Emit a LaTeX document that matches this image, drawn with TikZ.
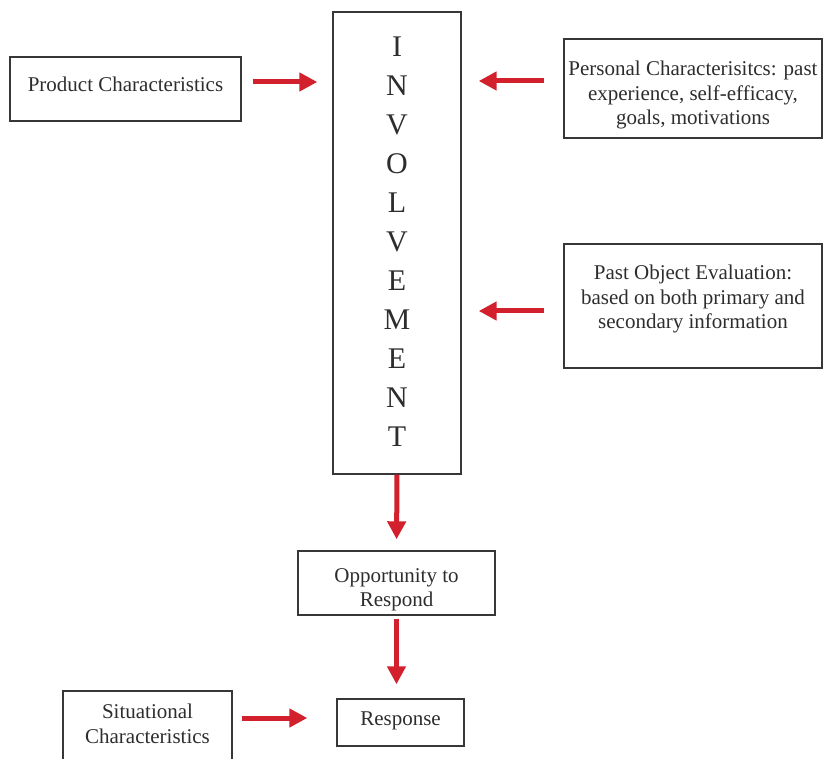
\documentclass[tikz,border=0pt]{standalone}
\usepackage{fontspec}
\setmainfont{Liberation Serif}
\usepackage{xcolor}
\usetikzlibrary{calc,arrows.meta}
\definecolor{arrowred}{RGB}{210,32,44}
\definecolor{boxgray}{RGB}{55,55,55}
\definecolor{textgray}{RGB}{45,45,45}
\tikzset{
	box/.style={rectangle,draw=boxgray,line width=1.4pt,inner sep=0pt},
	txt/.style={draw=none,inner sep=0pt,align=center,text=textgray,font=\fontsize{21}{24.5}\selectfont},
	letter/.style={draw=none,inner sep=0pt,text=textgray,font=\fontsize{30}{30}\selectfont},
	flow/.style={draw=arrowred,line width=5pt,arrows={-Triangle[length=18pt,width=18pt]}}
	}
\begin{document}
\begin{tikzpicture}[x=1pt,y=-1pt]
	\useasboundingbox (0,0) rectangle (823,759);
	% boxes
	\node[box,minimum width=231pt,minimum height=64pt] (prod) at (125.5,89) {};
	\node[box,minimum width=128pt,minimum height=462pt] (inv) at (397,243) {};
	\node[box,minimum width=258pt,minimum height=99pt] (pers) at (693,88.5) {};
	\node[box,minimum width=258pt,minimum height=124pt] (past) at (693,306) {};
	\node[box,minimum width=197pt,minimum height=64pt] (opp) at (396.5,583) {};
	\node[box,minimum width=127pt,minimum height=47pt] (resp) at (400.5,722.5) {};
	\node[box,minimum width=169pt,minimum height=70pt] (sit) at (147.5,726) {};
	% texts
	\node[txt] (prodtext) at (125.5,84) {Product Characteristics};
	\foreach \ch [count=\i from 0] in {I,N,V,O,L,V,E,M,E,N,T}
		\node[letter] (l\i) at (397,47+39*\i) {\ch};
	\node[txt] (perstext) at (693,95) {Personal Characterisitcs: past\\experience, self-efficacy,\\goals, motivations};
	\node[txt] (pasttext) at (693,299) {Past Object Evaluation:\\based on both primary and\\secondary information};
	\node[txt] (opptext) at (396.5,590) {Opportunity to\\Respond};
	\node[txt] (resptext) at (400.5,721) {Response};
	\node[txt] (sittext) at (147.5,724) {Situational\\Characteristics};

	\draw[flow,shorten <=11pt,shorten >=15pt] ([yshift=7pt]prod.east) -- ([yshift=7pt]prod.east -| inv.west);
	\draw[flow,shorten <=19pt,shorten >=17pt] ([yshift=7.5pt]pers.west) -- ([yshift=7.5pt]pers.west -| inv.east);
	\draw[flow,shorten <=19pt,shorten >=17pt] ([yshift=-5pt]past.west) -- ([yshift=-5pt]past.west -| inv.east);
	\draw[flow,shorten >=11pt] (inv.south) -- (opp.north);
	\draw[flow,shorten <=3pt,shorten >=14pt] (opp.south) -- (opp.south |- resp.north);
	\draw[flow,shorten <=9pt,shorten >=29pt] ([yshift=8pt]sit.east) -- ([yshift=8pt]sit.east -| resp.west);
\end{tikzpicture}
\end{document}
